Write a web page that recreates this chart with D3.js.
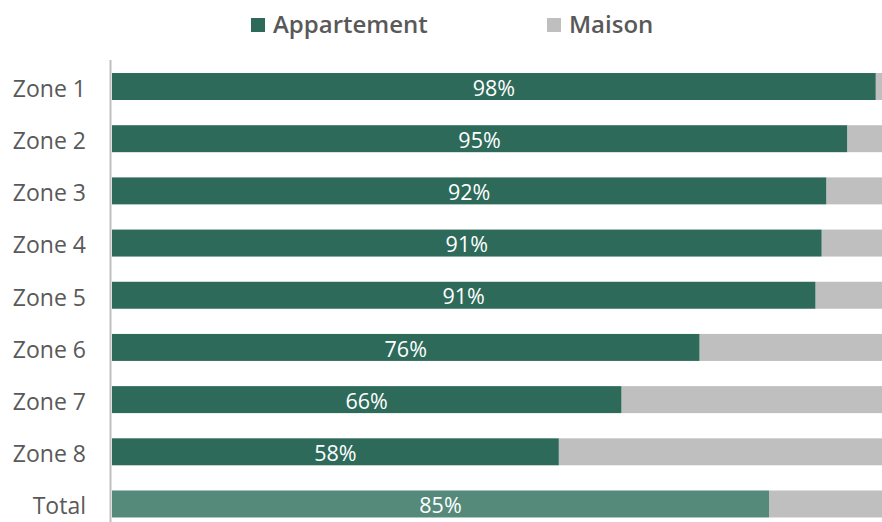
<!DOCTYPE html>
<html><head><meta charset="utf-8">
<script src="https://cdn.jsdelivr.net/npm/d3@7"></script>
<style>body{margin:0;background:#fff}svg{display:block}</style>
</head><body>
<svg id="c" width="882" height="522"></svg>
<script>
const categories = ["Zone 1","Zone 2","Zone 3","Zone 4","Zone 5","Zone 6","Zone 7","Zone 8","Total"];
const appartement = [98.8, 95.1, 92.4, 91.8, 91.0, 76.0, 65.9, 57.8, 85.0];
const maison = appartement.map(v => 100 - v);
const seriesNames = ["Appartement","Maison"];
const valueLabels = ["98%","95%","92%","91%","91%","76%","66%","58%","85%"];

const colors = {Appartement:"#2d6a5a", Maison:"#bfbfbf", Total:"#55897a"};
const font = "'Open Sans', Roboto, sans-serif";
const svg = d3.select("#c");

const x = d3.scaleLinear().domain([0,100]).range([112, 885]);
const y = d3.scaleBand().domain(categories).range([60.5, 530]).paddingInner(0.483).paddingOuter(0.24);

const rows = categories.map((c,i)=>({cat:c, a:appartement[i], m:maison[i], label:valueLabels[i]}));

const g = svg.append("g");
g.selectAll("rect.m").data(rows).join("rect").attr("class","m")
  .attr("x", d=>x(d.a)).attr("width", d=>x(d.a+d.m)-x(d.a))
  .attr("y", d=>y(d.cat)).attr("height", y.bandwidth())
  .attr("fill", colors.Maison);
g.selectAll("rect.a").data(rows).join("rect").attr("class","a")
  .attr("x", x(0)).attr("width", d=>x(d.a)-x(0))
  .attr("y", d=>y(d.cat)).attr("height", y.bandwidth())
  .attr("fill", d=>d.cat==="Total"?colors.Total:colors.Appartement);
g.selectAll("text.v").data(rows).join("text").attr("class","v")
  .attr("x", d=>(x(0)+x(d.a))/2).attr("y", d=>y(d.cat)+y.bandwidth()/2)
  .attr("dy","0.43em").attr("text-anchor","middle")
  .attr("fill","#fff").attr("font-family",font).attr("font-size",21.5)
  .text(d=>d.label);

const yAxis = d3.axisLeft(y).tickSize(0).tickPadding(24.5);
const ax = svg.append("g").attr("transform","translate(110.5,0)").call(yAxis);
ax.select(".domain").attr("stroke","#bfbfbf").attr("stroke-width",2).attr("d","M0,60V530");
ax.selectAll("text").attr("fill","#595959").attr("font-family",font).attr("font-size",23).attr("dy","0.45em");

const legend = [{name:seriesNames[0], x:251, color:colors.Appartement},{name:seriesNames[1], x:547, color:colors.Maison}];
const lg = svg.append("g").selectAll("g").data(legend).join("g").attr("transform",d=>`translate(${d.x},0)`);
lg.append("rect").attr("x",0).attr("y",18).attr("width",14).attr("height",14).attr("fill",d=>d.color);
lg.append("text").attr("x",22).attr("y",24.5).attr("dy","0.36em").attr("fill","#595959")
  .attr("font-family",font).attr("font-size",24).attr("font-weight",600).text(d=>d.name);
</script>
</body></html>
